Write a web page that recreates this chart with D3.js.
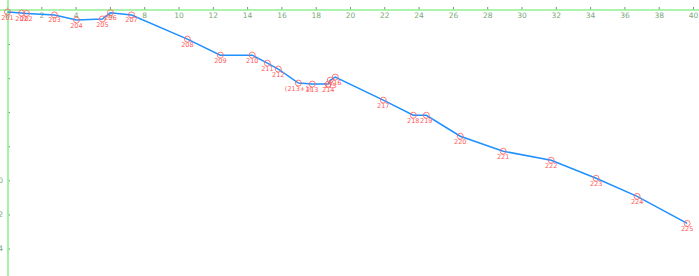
<!DOCTYPE html>
<html>
<head>
<meta charset="utf-8">
<script src="https://cdn.jsdelivr.net/npm/d3@7"></script>
<style>
  body { margin: 0; background: #fff; }
  svg { display: block; }
</style>
</head>
<body>
<svg id="chart" width="699" height="276"></svg>
<script>
// station names, distance along x and depth on y
let stations = ["201", "202", "202", "203", "204", "205", "206", "207", "208", "209",
  "210", "211", "212", "(213+1)", "213", "214", "215", "216", "217", "218",
  "219", "220", "221", "222", "223", "224", "225"];
let distances = [0.03, 0.85, 1.14, 2.77, 4.05, 5.56, 6.03, 7.26, 10.52, 12.44,
  14.3, 15.18, 15.82, 16.99, 17.8, 18.73, 18.85, 19.14, 21.94, 23.69,
  24.45, 26.43, 28.93, 31.73, 34.35, 36.74, 39.66];
let depths = [0.12, 0.18, 0.2, 0.29, 0.59, 0.53, 0.16, 0.29, 1.71, 2.65,
  2.65, 3.12, 3.47, 4.29, 4.35, 4.35, 4.12, 3.94, 5.29, 6.18,
  6.18, 7.41, 8.29, 8.82, 9.88, 10.94, 12.53];

let xTickValues = [0, 2, 4, 6, 8, 10, 12, 14, 16, 18, 20, 22, 24, 26, 28, 30, 32, 34, 36, 38, 40];
let yTickValues = [2, 4, 6, 8, 10, 12, 14];
let yTickLabels = ["", "", "", "", "10", "12", "14"];

function drawProfile(svgId) {
  let svg = d3.select(svgId);
  let width = 699;
  let height = 276;

  let axisColor = "#90f090";
  let tickColor = "#5aa55a";
  let tickTextColor = "#79a879";
  let lineColor = "#1e90ff";
  let pointColor = "#ff5a5a";

  let data = stations.map(function(s, i) {
    return { name: s, x: distances[i], y: depths[i] };
  });

  let x = d3.scaleLinear().domain([0, 40]).range([7, 693]);
  let y = d3.scaleLinear().domain([0, 14]).range([10, 248.5]);

  // x axis along the top, labels under the line
  let xAxis = svg.append("g")
    .attr("transform", "translate(0," + y(0) + ")")
    .call(d3.axisBottom(x)
      .tickValues(xTickValues)
      .tickSize(-3)
      .tickPadding(3)
      .tickFormat(d3.format("d")));
  xAxis.select(".domain").remove();
  xAxis.selectAll(".tick line").style("stroke", tickColor);
  xAxis.selectAll(".tick text")
    .style("fill", tickTextColor)
    .style("font-family", "DejaVu Sans")
    .style("font-size", "7.5px");
  svg.append("line")
    .attr("x1", 0).attr("x2", width)
    .attr("y1", y(0)).attr("y2", y(0))
    .style("stroke", axisColor)
    .style("stroke-width", 1.6);

  // y axis on the left edge
  let yAxis = svg.append("g")
    .attr("transform", "translate(" + (x(0) + 1) + ",0)")
    .call(d3.axisLeft(y)
      .tickValues(yTickValues)
      .tickSize(-2)
      .tickPadding(5)
      .tickFormat(function(d, i) { return yTickLabels[i]; }));
  yAxis.select(".domain").remove();
  yAxis.selectAll(".tick line").style("stroke", tickColor);
  yAxis.selectAll(".tick text")
    .style("fill", tickTextColor)
    .style("font-family", "DejaVu Sans")
    .style("font-size", "7.5px");
  svg.append("line")
    .attr("x1", x(0) + 1).attr("x2", x(0) + 1)
    .attr("y1", 0).attr("y2", height)
    .style("stroke", axisColor)
    .style("stroke-width", 1.6);

  // profile line
  let line = d3.line()
    .x(d => x(d.x))
    .y(d => y(d.y));
  svg.append("path")
    .datum(data)
    .attr("d", line)
    .style("fill", "none")
    .style("stroke", lineColor)
    .style("stroke-width", 1.5);

  // station circles
  svg.selectAll(".station")
    .data(data)
    .enter().append("circle")
    .attr("class", "station")
    .attr("cx", d => x(d.x))
    .attr("cy", d => y(d.y))
    .attr("r", 3)
    .style("fill", "none")
    .style("stroke", pointColor)
    .style("stroke-width", 0.8);

  // station labels
  svg.selectAll(".station_label")
    .data(data)
    .enter().append("text")
    .attr("class", "station_label")
    .attr("x", d => x(d.x))
    .attr("y", d => y(d.y) + 7.5)
    .text(d => d.name)
    .style("fill", pointColor)
    .style("text-anchor", "middle")
    .style("font-family", "DejaVu Sans")
    .style("font-size", "6.5px");
}

drawProfile("#chart");
</script>
</body>
</html>
